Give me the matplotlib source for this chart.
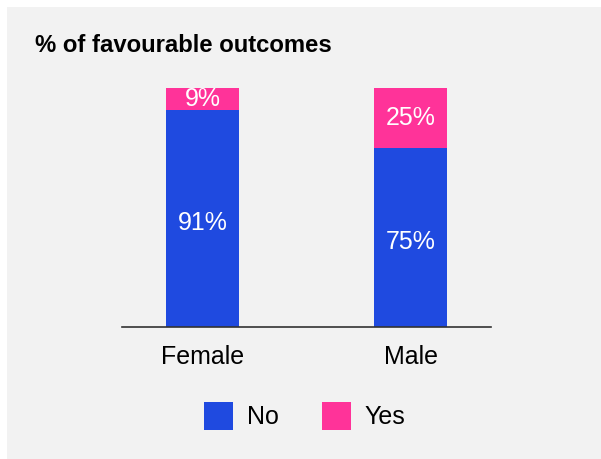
import numpy as np
import matplotlib.pyplot as plt
from matplotlib.patches import Rectangle

categories = ["Female", "Male"]
no_values = [91, 75]
yes_values = [9, 25]
series_names = ["No", "Yes"]

blue = "#1f4ae0"
pink = "#ff3399"
panel = "#f2f2f2"

plt.rcParams["font.family"] = ["Liberation Sans", "DejaVu Sans"]

W, H = 601, 459
fig = plt.figure(figsize=(W / 100, H / 100), dpi=100)
fig.patch.set_facecolor("white")
# grey card behind everything
fig.patches.append(Rectangle((7 / W, 0), 1 - 7 / W, 1 - 7 / H, transform=fig.transFigure,
                             facecolor=panel, edgecolor="none", zorder=-10))

# axes in pixel coords: x 122..491, y 88..327 (from top)
ax = fig.add_axes([122 / W, 1 - 327 / H, (491 - 122) / W, (327 - 88) / H])
ax.set_facecolor("none")

x = np.arange(len(categories))
width = 0.351
b1 = ax.bar(x, no_values, width, color=blue, label=series_names[0])
b2 = ax.bar(x, yes_values, width, bottom=no_values, color=pink, label=series_names[1])

for i in range(len(categories)):
    ax.text(x[i], no_values[i] / 2 - 2, f"{no_values[i]}%", ha="center", va="center",
            color="white", fontsize=18)
    ax.text(x[i], no_values[i] + yes_values[i] / 2, f"{yes_values[i]}%", ha="center",
            va="center", color="white", fontsize=18)

ax.set_xlim(-0.387, 1.387)
ax.set_ylim(0, 100)
ax.set_yticks([])
ax.set_xticks(x)
ax.set_xticklabels(categories, fontsize=18)
ax.tick_params(axis="x", length=0, pad=13)
for s in ["top", "right", "left"]:
    ax.spines[s].set_visible(False)
ax.spines["bottom"].set_color("#333333")
ax.spines["bottom"].set_linewidth(1.2)

fig.text(35 / W, 1 - 45 / H, "% of favourable outcomes", fontsize=17.2, fontweight="bold",
         va="center", ha="left")

fig.legend(handles=[b1, b2], labels=series_names, loc="center", ncol=2,
           bbox_to_anchor=(305 / W, 1 - 416 / H), frameon=False, fontsize=18,
           handlelength=1.16, handleheight=1.4, handletextpad=0.56, columnspacing=1.7)

fig.savefig("out.png", dpi=100, facecolor=fig.get_facecolor())
